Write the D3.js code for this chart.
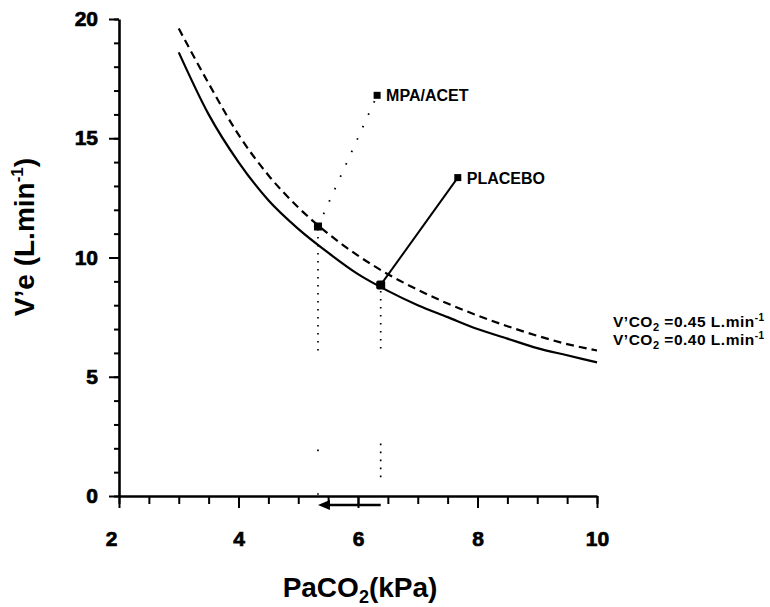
<!DOCTYPE html>
<html>
<head>
<meta charset="utf-8">
<script src="https://cdn.jsdelivr.net/npm/d3@7"></script>
<style>
  body { margin: 0; background: #fff; }
  svg { display: block; }
  text { font-family: "Liberation Sans", Arial, Helvetica, sans-serif; font-weight: bold; fill: #000; }
</style>
</head>
<body>
<svg id="chart" width="770" height="607"></svg>
<script>
// Iso-V'CO2 ventilation curves: V'e (L/min) against PaCO2 (kPa)
const paco2 = [3, 3.5, 4, 4.5, 5, 5.5, 6, 6.5, 7, 7.5, 8, 8.5, 9, 9.5, 10];
const ve040 = [18.6, 16.0, 14.0, 12.4, 11.2, 10.2, 9.3, 8.6, 8.0, 7.5, 7.0, 6.6, 6.2, 5.9, 5.6];
const ve045 = [19.6, 17.3, 15.15, 13.45, 12.1, 11.0, 10.08, 9.3, 8.65, 8.07, 7.57, 7.12, 6.72, 6.37, 6.1];
const curveLabels = ["0.45", "0.40"];

// Treatment groups: resting point on the curve and the point reached above it
const groups = ["MPA/ACET", "PLACEBO"];
const groupPaco2 = [[5.33, 6.32], [6.38, 7.67]];
const groupVe = [[11.3, 16.8], [8.85, 13.35]];

// Vertical dotted drop lines (PaCO2, top V'e, bottom V'e)
const dropX = [5.33, 5.33, 5.33, 6.38, 6.38];
const dropTop = [11.2, 1.95, 0.12, 8.6, 2.2];
const dropBottom = [6.0, 1.85, 0.04, 6.0, 0.6];

// Shift in resting PaCO2 from placebo to MPA/ACET
const shiftFrom = 6.38, shiftTo = 5.33;

// Axis ticks
const xMajor = [2, 4, 6, 8, 10];
const xMinor = d3.range(2, 10.01, 0.5);
const yMajor = [0, 5, 10, 15, 20];
const yMinor = d3.range(0, 20.01, 1);

const svg = d3.select("#chart");
const x = d3.scaleLinear().domain([2, 10]).range([119, 597]);
const y = d3.scaleLinear().domain([0, 20]).range([496, 19]);

// ---- axes ----
const gx = svg.append("g").attr("transform", `translate(0,${y(0)})`);
gx.append("g").call(d3.axisBottom(x).tickValues(xMinor).tickSize(8).tickSizeOuter(0).tickFormat(""))
  .call(g => g.select(".domain").remove());
gx.append("g").call(d3.axisBottom(x).tickValues(xMajor).tickSize(12).tickSizeOuter(0).tickPadding(23).tickFormat(d3.format("d")));
gx.selectAll("text").filter(d => d === 2).attr("dx", -8);

const gy = svg.append("g").attr("transform", `translate(${x(2)},0)`);
gy.append("g").call(d3.axisLeft(y).tickValues(yMinor).tickSize(5).tickSizeOuter(0).tickFormat(""))
  .call(g => g.select(".domain").remove());
gy.append("g").call(d3.axisLeft(y).tickValues(yMajor).tickSize(10).tickSizeOuter(0).tickPadding(11).tickFormat(d3.format("d")));

svg.selectAll(".tick text")
  .attr("font-size", 21).attr("font-weight", "bold")
  .attr("font-family", "'Liberation Sans', Arial, sans-serif")
  .attr("stroke", "#000").attr("stroke-width", 0.7);
svg.selectAll(".domain").attr("stroke", "#000").attr("stroke-width", 2.6);
svg.selectAll(".tick line").attr("stroke", "#000").attr("stroke-width", 2);

// axis titles
const xt = svg.append("text").attr("x", 360).attr("y", 597).attr("text-anchor", "middle").attr("font-size", 28);
xt.append("tspan").text("PaCO");
xt.append("tspan").attr("font-size", 18).attr("dy", 6).text("2");
xt.append("tspan").attr("dy", -6).text("(kPa)");

const yt = svg.append("text").attr("transform", "translate(34,237) rotate(-90)").attr("text-anchor", "middle").attr("font-size", 28);
yt.append("tspan").text("V\u2019e (L.min");
yt.append("tspan").attr("font-size", 17).attr("dy", -11).text("-1");
yt.append("tspan").attr("dy", 11).text(")");

// ---- iso-V'CO2 curves ----
const line = d3.line().x(d => x(d[0])).y(d => y(d[1])).curve(d3.curveMonotoneX);
svg.append("path").datum(paco2.map((p, i) => [p, ve045[i]]))
  .attr("d", line).attr("fill", "none").attr("stroke", "#000").attr("stroke-width", 2.2)
  .attr("stroke-dasharray", "8,5");
svg.append("path").datum(paco2.map((p, i) => [p, ve040[i]]))
  .attr("d", line).attr("fill", "none").attr("stroke", "#000").attr("stroke-width", 2.2);

// curve labels
curveLabels.forEach((v, i) => {
  const t = svg.append("text").attr("x", 613).attr("y", 327 + i * 18).attr("font-size", 15.5).attr("letter-spacing", 0.5);
  t.append("tspan").text("V\u2019CO");
  t.append("tspan").attr("font-size", 11).attr("dy", 4).text("2");
  t.append("tspan").attr("dy", -4).text(" =" + v + " L.min");
  t.append("tspan").attr("font-size", 10).attr("dy", -6).text("-1");
});

// ---- drop lines ----
dropX.forEach((px, i) => {
  svg.append("line")
    .attr("x1", x(px)).attr("x2", x(px))
    .attr("y1", y(dropTop[i])).attr("y2", y(dropBottom[i]))
    .attr("stroke", "#000").attr("stroke-width", 1.7)
    .attr("stroke-dasharray", "1.7,6.3");
});

// ---- group trajectories ----
groups.forEach((name, i) => {
  const xs = groupPaco2[i], ys = groupVe[i];
  svg.append("line")
    .attr("x1", x(xs[0])).attr("y1", y(ys[0]))
    .attr("x2", x(xs[1])).attr("y2", y(ys[1]))
    .attr("stroke", "#000")
    .attr("stroke-width", i === 0 ? 1.8 : 2)
    .attr("stroke-dasharray", i === 0 ? "1.6,12" : null);
  const s0 = i === 0 ? 8 : 9;
  svg.append("rect").attr("x", x(xs[0]) - s0 / 2).attr("y", y(ys[0]) - s0 / 2)
    .attr("width", s0).attr("height", s0).attr("fill", "#000")
    .attr("rx", i === 0 ? 0 : 2);
  svg.append("rect").attr("x", x(xs[1]) - 3.5).attr("y", y(ys[1]) - 3.5)
    .attr("width", 7).attr("height", 7).attr("fill", "#000");
  svg.append("text").attr("x", x(xs[1]) + 9).attr("y", y(ys[1]) + 6)
    .attr("font-size", 16).text(name);
});

// ---- PaCO2 shift arrow below the axis ----
const ay = y(0) + 9;
svg.append("line").attr("x1", x(shiftFrom)).attr("x2", x(shiftTo) + 9)
  .attr("y1", ay).attr("y2", ay).attr("stroke", "#000").attr("stroke-width", 2.4);
svg.append("path")
  .attr("d", `M${x(shiftTo)},${ay} L${x(shiftTo) + 12},${ay - 5} L${x(shiftTo) + 12},${ay + 5} Z`)
  .attr("fill", "#000");
</script>
</body>
</html>
